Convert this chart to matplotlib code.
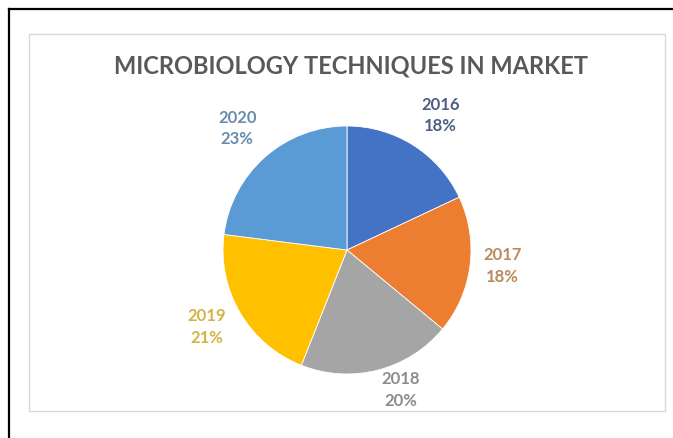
import matplotlib
matplotlib.use("Agg")
import matplotlib.pyplot as plt
import numpy as np
from matplotlib.patches import Rectangle
from matplotlib.lines import Line2D

years = ["2016", "2017", "2018", "2019", "2020"]
shares = [18, 18, 20, 21, 23]
slice_colors = ["#4472C4", "#ED7D31", "#A5A5A5", "#FFC000", "#5B9BD5"]
label_colors = ["#4E5F80", "#B98A5E", "#8C8C8C", "#D2B544", "#6A8CAB"]
title = "MICROBIOLOGY TECHNIQUES IN MARKET"

W, H = 673, 438
fig = plt.figure(figsize=(W / 100, H / 100), dpi=100)
ax = fig.add_axes([0, 0, 1, 1])

cx, cy, R = 347, H - 250, 124
wedges, _ = ax.pie(shares, colors=slice_colors, startangle=90, counterclock=False,
                   center=(cx, cy), radius=R, frame=True,
                   wedgeprops=dict(edgecolor="white", linewidth=0.6))
ax.set_xlim(0, W)
ax.set_ylim(0, H)
ax.set_aspect("equal")
ax.axis("off")

# frame lines (screenshot border and chart area border)
fig.add_artist(Line2D([9 / W, 1], [1 - 9 / H, 1 - 9 / H], color="black", lw=1.6))
fig.add_artist(Line2D([9 / W, 9 / W], [0, 1 - 9 / H], color="black", lw=1.6))
fig.add_artist(Rectangle((29 / W, 1 - 411 / H), (665 - 29) / W, (411 - 34) / H,
                         fill=False, edgecolor="#D9D9D9", lw=1.0))

ax.text(351, H - 66, title, ha="center", va="center", fontsize=17,
        fontweight="bold", color="#595959", family="Lato")

# label placement: distance (in radii) and angular offset from slice middle (deg)
dists = [1.32, 1.26, 1.21, 1.29, 1.32]
offsets = [-2.4, 1.3, 6.7, -1.8, 0.7]
total = sum(shares)
for w, yr, v, col, d, off in zip(wedges, years, shares, label_colors, dists, offsets):
    th = np.deg2rad((w.theta1 + w.theta2) / 2 + off)
    x = cx + R * d * np.cos(th)
    y = cy + R * d * np.sin(th)
    ax.text(x, y, f"{yr}\n{v / total * 100:.0f}%", ha="center", va="center",
            fontsize=12, fontweight="bold", color=col, family="Lato",
            linespacing=1.4)

fig.savefig("out.png", dpi=100)
